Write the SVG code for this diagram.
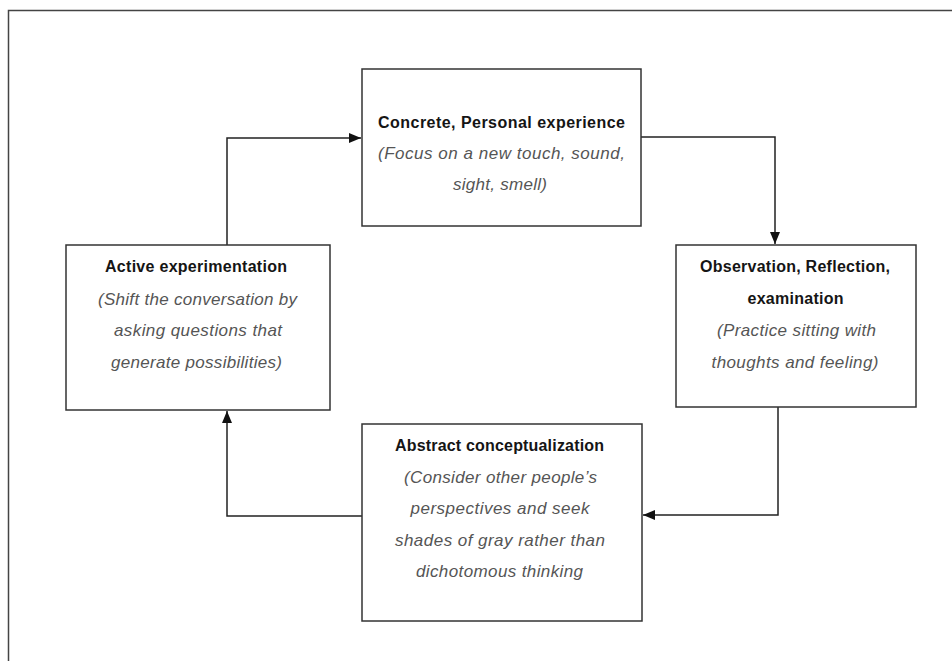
<svg xmlns="http://www.w3.org/2000/svg" width="952" height="661" viewBox="0 0 952 661">
<defs>
<style>
.box{fill:#fff;stroke:#333;stroke-width:1.5}
.frame{fill:#fff;stroke:#444;stroke-width:1.5}
.t{font-family:"Liberation Sans",Arial,sans-serif;font-size:16px;font-weight:bold;fill:#151515;text-anchor:middle}
.i{font-family:"Liberation Sans",Arial,sans-serif;font-size:17px;font-style:italic;fill:#555;text-anchor:middle}
.c{fill:none;stroke:#222;stroke-width:1.5}
</style>
<marker id="ah" viewBox="0 0 12 12" refX="12" refY="6" markerWidth="12" markerHeight="12" markerUnits="userSpaceOnUse" orient="auto">
<path d="M0,1 L12,6 L0,11 Z" fill="#111"/>
</marker>
</defs>
<rect width="952" height="661" fill="#fff"/>
<rect class="frame" x="8.5" y="10.5" width="1000" height="1000"/>

<g id="connectors">
<path class="c" d="M227,245 V138 H361" marker-end="url(#ah)"/>
<path class="c" d="M641,137 H775 V244" marker-end="url(#ah)"/>
<path class="c" d="M778,407 V515 H643" marker-end="url(#ah)"/>
<path class="c" d="M362,516 H227 V411" marker-end="url(#ah)"/>
</g>

<g id="concrete">
<rect class="box" x="362" y="69" width="279" height="157"/>
<text class="t" x="501.5" y="128" textLength="247" lengthAdjust="spacing">Concrete, Personal experience</text>
<text class="i" x="501.5" y="159" textLength="247" lengthAdjust="spacing">(Focus on a new touch, sound,</text>
<text class="i" x="500" y="190" textLength="94" lengthAdjust="spacing">sight, smell)</text>
</g>

<g id="observation">
<rect class="box" x="676" y="245" width="240" height="162"/>
<text class="t" x="795" y="272" textLength="190" lengthAdjust="spacing">Observation, Reflection,</text>
<text class="t" x="795.5" y="304" textLength="96" lengthAdjust="spacing">examination</text>
<text class="i" x="796.5" y="336" textLength="159" lengthAdjust="spacing">(Practice sitting with</text>
<text class="i" x="795" y="368" textLength="167" lengthAdjust="spacing">thoughts and feeling)</text>
</g>

<g id="abstract">
<rect class="box" x="362" y="424" width="280" height="197"/>
<text class="t" x="499.5" y="451" textLength="209" lengthAdjust="spacing">Abstract conceptualization</text>
<text class="i" x="500.5" y="483" textLength="193" lengthAdjust="spacing">(Consider other people’s</text>
<text class="i" x="500" y="514" textLength="179" lengthAdjust="spacing">perspectives and seek</text>
<text class="i" x="500" y="546" textLength="210" lengthAdjust="spacing">shades of gray rather than</text>
<text class="i" x="499.5" y="577" textLength="167" lengthAdjust="spacing">dichotomous thinking</text>
</g>

<g id="active">
<rect class="box" x="66" y="245" width="264" height="165"/>
<text class="t" x="196" y="272" textLength="182" lengthAdjust="spacing">Active experimentation</text>
<text class="i" x="197.5" y="305" textLength="199" lengthAdjust="spacing">(Shift the conversation by</text>
<text class="i" x="198" y="336" textLength="168" lengthAdjust="spacing">asking questions that</text>
<text class="i" x="196.5" y="368" textLength="171" lengthAdjust="spacing">generate possibilities)</text>
</g>
</svg>
